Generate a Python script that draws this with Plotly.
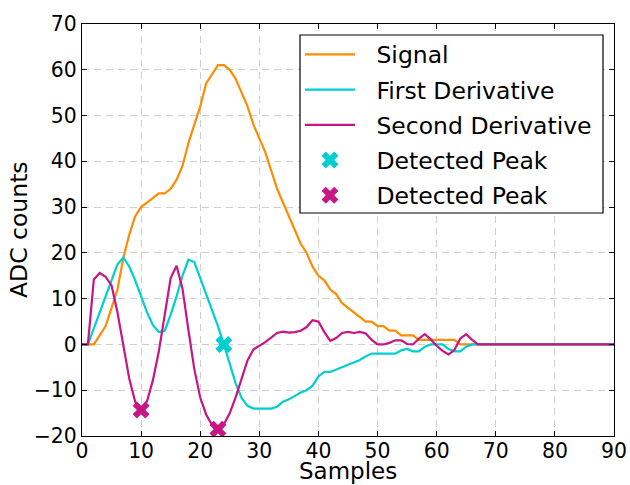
import plotly.graph_objects as go

# ADC samples and the two smoothed derivatives used for peak finding
samples = list(range(91))

signal = [0, 0, 0, 2, 4, 8, 12, 19, 24, 28, 30, 31, 32, 33, 33, 34, 36, 39, 44, 48,
          52, 57, 59, 61, 61, 60, 58, 55, 52, 48, 45, 42, 38, 34, 31, 28, 25, 22, 20, 17,
          15, 14, 12, 11, 9, 8, 7, 6, 5, 5, 4, 4, 3, 3, 2, 2, 2, 1, 1, 1,
          1, 1, 1, 1] + [0] * 27

first_deriv = [0, 0, 3.5, 7, 10.5, 14, 17.5, 19, 17, 14, 10.5, 7, 4.2, 2.7, 3, 6.5, 10.5, 15, 18.5, 18,
               14.5, 11, 7.5, 4, 0, -4.5, -8.5, -11.7, -13.4, -14, -14, -14, -14, -13.6, -12.5, -12, -11.2, -10.5, -10, -9,
               -7, -6, -6, -5.5, -5, -4.5, -4, -3.4, -2.6, -2, -2, -2, -2, -2, -1.3, -1, -1.5, -1.5, -0.5, 0,
               0, 0, -1, -1.5, -1.5, -0.5, 0] + [0] * 24

second_deriv = [0, 0, 14.2, 15.6, 14.8, 12.9, 7, -0.7, -7.5, -12.5, -14.3, -12.4, -7.8, -1.5, 6.8, 14.5, 17.2, 12.2, 3.2, -5.4,
                -11.6, -15.3, -17.6, -18.5, -17.5, -15, -11.5, -7.3, -3.5, -1.1, -0.3, 0.5, 1.5, 2.5, 2.8, 2.6, 2.7, 3, 3.8, 5.3,
                5.0, 2.7, 0.8, 1.4, 2.5, 2.75, 2.5, 2.75, 2.4, 1.0, 0, 0, 0.35, 0.9, 0.9, 0.1, 0, 1.3, 2.25, 1.1,
                -0.3, -1.4, -2.2, -1.2, 1.3, 2.25, 1.0, 0] + [0] * 23

# indices flagged as peaks
peaks_first = [24]
peaks_second = [10, 23]

ORANGE = "#ff8c00"
CYAN = "#00ced1"
MAGENTA = "#c71585"
FONT = "DejaVu Sans"
GAP = "\u2002\u2009"  # widens the space between legend symbol and label

fig = go.Figure()
fig.add_trace(go.Scatter(x=samples, y=signal, mode="lines", name=GAP + "Signal",
                         line=dict(color=ORANGE, width=2.2), legendgroup="a"))
fig.add_trace(go.Scatter(x=samples, y=first_deriv, mode="lines", name=GAP + "First Derivative",
                         line=dict(color=CYAN, width=2.2), legendgroup="b"))
fig.add_trace(go.Scatter(x=samples, y=second_deriv, mode="lines", name=GAP + "Second Derivative",
                         line=dict(color=MAGENTA, width=2.2), legendgroup="c"))
fig.add_trace(go.Scatter(x=peaks_first, y=[first_deriv[i] for i in peaks_first], mode="markers",
                         name=GAP + "Detected Peak", legendgroup="d",
                         marker=dict(symbol="x", size=15, color=CYAN, line=dict(width=0))))
fig.add_trace(go.Scatter(x=peaks_second, y=[second_deriv[i] for i in peaks_second], mode="markers",
                         name=GAP + "Detected Peak", legendgroup="e",
                         marker=dict(symbol="x", size=15, color=MAGENTA, line=dict(width=0))))

axis_common = dict(
    showline=True, linecolor="black", linewidth=1.2, mirror="allticks",
    ticks="inside", ticklen=5, tickwidth=1, tickcolor="black",
    showgrid=True, gridcolor="#cfcfcf", gridwidth=1.2, griddash="7px,5px",
    zeroline=False, dtick=10, automargin=False,
    tickfont=dict(size=20.4, color="black", family=FONT),
)

# plot-area geometry in pixels, used to place the legend frame and axis titles
W, H = 630, 485
L, R, T, B = 82, 16, 24, 49
PW, PH = W - L - R, H - T - B


def px_x(px):
    return (px - L) / PW


def px_y(py):
    return (H - B - py) / PH


fig.update_layout(
    width=W, height=H,
    margin=dict(l=L, r=R, t=T, b=B),
    paper_bgcolor="white", plot_bgcolor="white",
    font=dict(family=FONT, color="black"),
    xaxis=dict(range=[0, 90], ticklabelstandoff=-4, **axis_common),
    yaxis=dict(range=[-20, 70], **axis_common),
    legend=dict(
        x=px_x(300), y=px_y(32.5), xanchor="left", yanchor="top",
        bgcolor="rgba(0,0,0,0)", borderwidth=0,
        font=dict(size=23.5, family=FONT), tracegroupgap=1.7, traceorder="grouped",
        itemwidth=50,
    ),
    showlegend=True,
    shapes=[dict(type="rect", xref="paper", yref="paper",
                 x0=px_x(300), x1=px_x(603), y0=px_y(213), y1=px_y(35),
                 fillcolor="white", line=dict(color="black", width=1.2), layer="above")],
    annotations=[
        dict(text="Samples", xref="paper", yref="paper", x=0.5, y=px_y(485),
             xanchor="center", yanchor="bottom", showarrow=False, borderpad=0,
             font=dict(size=23, family=FONT, color="black")),
        dict(text="ADC counts", xref="paper", yref="paper", x=px_x(19), y=0.5,
             xanchor="center", yanchor="middle", textangle=-90, showarrow=False,
             font=dict(size=23.5, family=FONT, color="black")),
    ],
)

fig.write_html("out.html")
